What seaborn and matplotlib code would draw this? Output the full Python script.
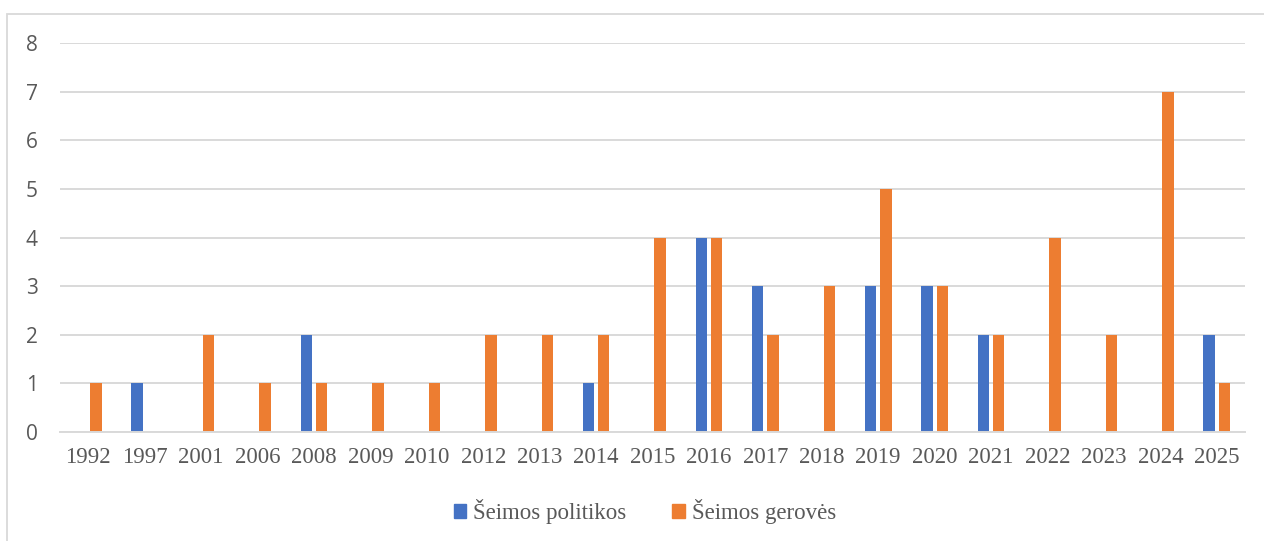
import matplotlib.pyplot as plt
import matplotlib.patches as mpatches
import seaborn as sns
import pandas as pd

years = ["1992", "1997", "2001", "2006", "2008", "2009", "2010", "2012", "2013", "2014",
         "2015", "2016", "2017", "2018", "2019", "2020", "2021", "2022", "2023", "2024", "2025"]
politikos = [0, 1, 0, 0, 2, 0, 0, 0, 0, 1, 0, 4, 3, 0, 3, 3, 2, 0, 0, 0, 2]
geroves = [1, 0, 2, 1, 1, 1, 1, 2, 2, 2, 4, 4, 2, 3, 5, 3, 2, 4, 2, 7, 1]
series_names = ["Šeimos politikos", "Šeimos gerovės"]

df = pd.DataFrame({
    "year": years * 2,
    "count": politikos + geroves,
    "series": [series_names[0]] * len(years) + [series_names[1]] * len(years),
})

sns.set_style("white")
text_col = "#595959"
grid_col = "#D9D9D9"

fig = plt.figure(figsize=(12.64, 5.41), dpi=100)
ax = fig.add_axes([60 / 1264, 1 - 432 / 541, (1245 - 60) / 1264, (432 - 43) / 541])

sns.barplot(data=df, x="year", y="count", hue="series", order=years, hue_order=series_names,
            palette=["#4472C4", "#ED7D31"], saturation=1, width=0.54, gap=0.25,
            linewidth=0, ax=ax, legend=False)

ax.set_ylim(0, 8)
ax.set_yticks(range(0, 9))
ax.yaxis.grid(True, color=grid_col, linewidth=1.4)
ax.set_axisbelow(True)
ax.set_xlabel("")
ax.set_ylabel("")
for s in ["top", "right", "left"]:
    ax.spines[s].set_visible(False)
ax.spines["bottom"].set_color(grid_col)
ax.spines["bottom"].set_linewidth(1.4)
ax.tick_params(axis="both", length=0)
ax.tick_params(axis="y", pad=16, labelcolor=text_col)
ax.tick_params(axis="x", pad=11, labelcolor=text_col)
for lab in ax.get_yticklabels():
    lab.set_fontfamily("Open Sans")
    lab.set_fontsize(15)
for lab in ax.get_xticklabels():
    lab.set_fontfamily("Liberation Serif")
    lab.set_fontsize(16.5)

handles = [mpatches.Patch(color="#4472C4", label=series_names[0]),
           mpatches.Patch(color="#ED7D31", label=series_names[1])]
leg = fig.legend(handles=handles, loc="center", bbox_to_anchor=(645 / 1264, 1 - 512 / 541),
                 ncol=2, frameon=False, handlelength=0.55, handleheight=0.55,
                 handletextpad=0.3, columnspacing=2.0,
                 prop={"family": "Liberation Serif", "size": 16.5})
for t in leg.get_texts():
    t.set_color(text_col)

border = mpatches.Rectangle((7 / 1264, -0.1), 1.2, 1 - 14 / 541 + 0.1, transform=fig.transFigure,
                            fill=False, edgecolor=grid_col, linewidth=1.3)
fig.patches.append(border)

fig.savefig("out.png", dpi=100)
